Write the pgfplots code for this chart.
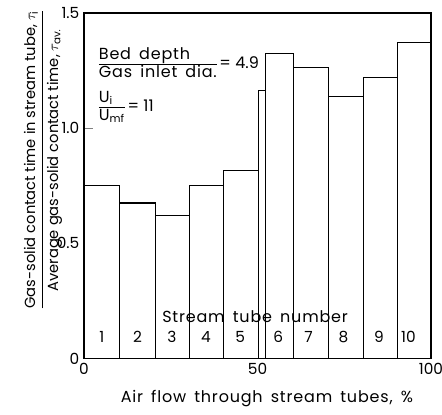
\documentclass[border=0pt]{standalone}
\usepackage{pgfplots}
\pgfplotsset{compat=1.18}
\usepackage{fontspec}
\setmainfont{Poppins}
\newfontfamily\wide[LetterSpace=5,WordSpace=1.6]{Poppins}
\tikzset{tubelab/.style={font=\fontsize{11.5}{13}\selectfont, anchor=center}}
\begin{document}
\begin{tikzpicture}
\begin{axis}[
 scale only axis, width=260pt, height=259pt,
 xmin=0, xmax=100, ymin=0, ymax=1.5,
 xtick={0,50,100}, ytick={0,0.5,1.0,1.5},
 yticklabels={0,0.5,1.0,1.5},
 /pgf/number format/assume math mode=true,
 axis line style={line width=1.3pt},
 xtick style={draw=none},
 ytick pos=left, tick align=inside, major tick length=7pt,
 ytick style={line width=0.8pt},
 tick label style={font=\fontsize{11.5}{13}\selectfont},
 xlabel={\wide Air flow through stream tubes, \%},
 xlabel style={at={(axis description cs:0.527,-0.116)}, anchor=center, font=\fontsize{12}{14}\selectfont},
 ylabel={\begin{tabular}{@{}c@{}}Gas-solid contact time in stream tube, $\tau_{\mathrm{i}}$\\[1pt]\hline\rule{0pt}{12pt}Average gas-solid contact time, $\tau_{\mathrm{av.}}$\end{tabular}},
 ylabel style={at={(axis description cs:-0.118,0.575)}, anchor=center, font=\fontsize{11}{13}\selectfont},
]
\addplot[ybar interval, fill=white, draw=black, line width=0.9pt] coordinates {
 (0,0.75) (10.3,0.675) (20.5,0.622) (30.4,0.752) (40.3,0.817) (50.3,1.165)
 (52.2,1.325) (60.3,1.263) (70.5,1.136) (80.5,1.22) (90.4,1.371) (100,1.371)};
\node[font=\fontsize{12}{14}\selectfont, anchor=center] at (axis cs:49.3,0.18) {\wide Stream tube number};
\node[tubelab] at (axis cs:5.1,0.093) {1};
\node[tubelab] at (axis cs:15.4,0.093) {2};
\node[tubelab] at (axis cs:25.3,0.093) {3};
\node[tubelab] at (axis cs:35.1,0.093) {4};
\node[tubelab] at (axis cs:45,0.093) {5};
\node[tubelab] at (axis cs:56,0.093) {6};
\node[tubelab] at (axis cs:64.7,0.093) {7};
\node[tubelab] at (axis cs:74.8,0.093) {8};
\node[tubelab] at (axis cs:85,0.093) {9};
\node[tubelab] at (axis cs:93.5,0.093) {10};
\node[font=\fontsize{12}{14}\selectfont, anchor=west, inner sep=0pt] at (axis cs:4.2,1.275)
 {\begin{tabular}{@{}l@{}}\wide Bed depth\\[-1pt]\hline\wide Gas inlet dia.\end{tabular}\,= 4.9};
\node[font=\fontsize{12}{14}\selectfont, anchor=west, inner sep=0pt] at (axis cs:4.2,1.09)
 {\begin{tabular}{@{}l@{}}U\textsubscript{i}\\[-1pt]\hline U\textsubscript{mf}\end{tabular}\,= 11};
\end{axis}
\pgfresetboundingbox
\path ([shift={(-63pt,-42pt)}]current axis.south west) rectangle ([shift={(8.25pt,9.75pt)}]current axis.north east);
\end{tikzpicture}
\end{document}
